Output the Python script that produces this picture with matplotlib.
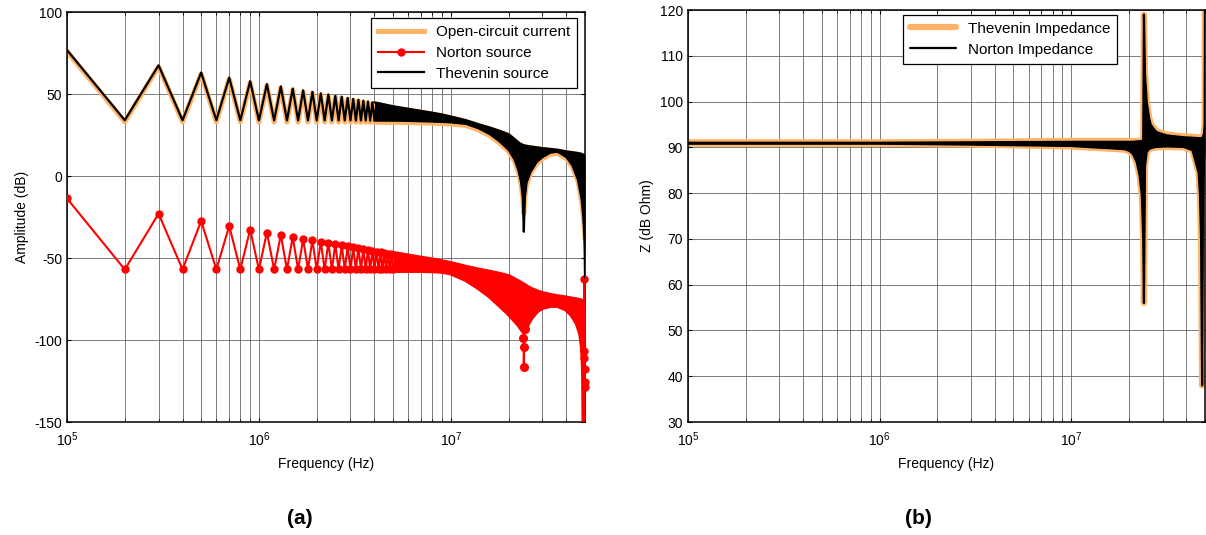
import numpy as np
import matplotlib.pyplot as plt

plt.rcParams['font.family'] = ['Liberation Sans', 'DejaVu Sans']
plt.rcParams['axes.unicode_minus'] = False

# ---------------- data ----------------
f0 = 1e5  # fundamental (Hz), every point sits on a harmonic n*f0

# harmonics 1..50 : drawn point by point
harm_zz = np.arange(1, 51)
thev_zz = [76.8, 34.0, 67.5, 34.0, 63.1, 34.0, 60.0, 34.0, 57.8, 33.9,
           56.0, 33.9, 54.6, 33.9, 53.3, 33.9, 52.2, 33.9, 51.3, 33.9,
           50.4, 33.9, 49.7, 33.9, 48.9, 33.9, 48.3, 33.9, 47.6, 33.9,
           47.0, 33.8, 46.5, 33.8, 45.9, 33.8, 45.4, 33.8, 44.9, 33.8,
           44.4, 33.8, 44.0, 33.8, 43.5, 33.8, 43.1, 33.8, 42.7, 33.8]
open_zz = [76.0, 33.0, 66.7, 33.0, 62.3, 33.0, 59.2, 33.0, 57.0, 32.9,
           55.2, 32.9, 53.8, 32.9, 52.5, 32.9, 51.4, 32.9, 50.5, 32.9,
           49.6, 32.9, 48.9, 32.9, 48.1, 32.9, 47.5, 32.9, 46.8, 32.9,
           46.2, 32.8, 45.7, 32.8, 45.1, 32.8, 44.6, 32.8, 44.1, 32.8,
           43.6, 32.8, 43.2, 32.8, 42.7, 32.8, 42.3, 32.8, 41.9, 32.8]
nort_zz = [-13.7, -57.0, -23.0, -57.0, -27.4, -57.0, -30.5, -57.0, -32.7, -57.0,
           -34.5, -57.0, -35.9, -57.0, -37.2, -57.0, -38.3, -57.0, -39.2, -57.0,
           -40.1, -57.0, -40.8, -57.0, -41.6, -57.0, -42.2, -57.0, -42.9, -57.0,
           -43.5, -57.0, -44.0, -57.0, -44.6, -57.0, -45.1, -57.0, -45.6, -57.0,
           -46.1, -57.0, -46.5, -57.0, -47.0, -57.0, -47.4, -57.0, -47.8, -57.0]

# harmonics 40..500 : too dense to separate, kept as upper / lower envelopes
harm_band = [40, 50, 60, 70, 80, 90, 100, 120, 140, 160, 180, 200, 215, 225, 232, 237,
             240, 243, 248, 260, 280, 300, 330, 360, 400, 430, 460, 480, 490, 495, 498, 500]
thev_hi = [44.9, 42.5, 41.0, 39.7, 38.6, 37.5, 36.3, 34.0, 31.5, 29.5, 27.5, 25.5, 22.5, 20.5, 19.5, 19.0,
           18.8, 18.6, 18.4, 18.0, 17.5, 17.0, 16.5, 16.0, 15.0, 14.5, 14.0, 13.5, 13.0, 13.0, 12.5, 12.0]
thev_lo = [33.8, 33.8, 33.6, 33.4, 33.2, 33.0, 32.7, 31.8, 29.0, 25.5, 21.0, 16.0, 10.0, 3.5, -3.5, -13.0,
           -34.0, -13.0, -4.0, 2.5, 8.5, 11.5, 14.3, 14.8, 11.5, 6.5, -2.5, -14.0, -25.0, -34.0, -45.0, -62.0]
open_hi = [44.1, 41.7, 40.2, 38.9, 37.8, 36.7, 35.5, 33.2, 30.7, 28.7, 26.7, 24.7, 21.7, 19.7, 18.7, 18.2,
           18.0, 17.8, 17.6, 17.2, 16.7, 16.2, 15.7, 15.2, 14.2, 13.7, 13.2, 12.7, 12.2, 12.2, 11.7, 11.2]
open_lo = [32.8, 32.8, 32.6, 32.4, 32.2, 32.0, 31.7, 30.8, 28.0, 24.5, 20.0, 15.0, 9.0, 2.5, -4.5, -13.0,
           -23.0, -13.0, -5.0, 1.5, 7.5, 10.5, 13.3, 13.8, 10.5, 5.5, -3.5, -15.0, -25.0, -31.0, -35.0, -38.0]

# Norton band starts later: its markers stay apart a little longer
harm_nband = [50, 60, 70, 80, 90, 100, 120, 140, 160, 180, 200, 215, 225, 232, 237,
              240, 243, 248, 260, 280, 300, 330, 360, 400, 430, 460, 480, 490, 495, 498, 500]
nort_hi = [-47.8, -49.4, -50.7, -51.8, -52.9, -54.0, -56.3, -58.0, -59.3, -60.6, -62.0, -64.0, -65.3, -66.2, -66.8,
           -67.2, -67.6, -68.3, -69.6, -71.2, -72.3, -73.4, -74.2, -75.0, -75.7, -76.3, -76.9, -77.3, -77.6, -78.0, -78.5]
nort_lo = [-57.0, -57.0, -57.0, -57.2, -57.5, -58.5, -62.5, -67.5, -72.5, -78.0, -83.0, -87.0, -89.5, -91.5, -93.0,
           -94.0, -93.0, -90.0, -86.0, -81.5, -79.5, -78.3, -78.3, -80.5, -84.0, -89.5, -96.0, -104.0, -112.0, -125.0, -155.0]

# single Norton points below the band: the null near 24 MHz and the right edge
nort_dip_n = [238, 239, 240, 241, 242]
nort_dip = [-92.0, -98.9, -116.5, -104.5, -93.0]
nort_tail_n = [494, 496, 497, 498, 499, 500]
nort_tail = [-63.0, -107.0, -111.0, -117.5, -125.7, -128.7]

# impedances (dB Ohm), envelopes
harm_z = [1, 3, 10, 30, 100, 130, 160, 190, 200, 210, 220, 228, 234, 238, 240, 243,
          248, 255, 260, 270, 280, 316, 386, 430, 463, 471, 477, 483, 488, 494, 498, 500]
thevz_hi = [91.1, 91.1, 91.1, 91.2, 91.4, 91.4, 91.4, 91.4, 91.4, 91.4, 91.4, 91.4, 91.5, 91.7, 119.0, 106.2,
            100.2, 96.7, 95.2, 94.2, 93.5, 92.8, 92.4, 92.3, 92.2, 92.2, 92.2, 92.2, 92.5, 93.2, 95.2, 125.0]
thevz_lo = [90.8, 90.8, 90.8, 90.6, 90.2, 89.9, 89.7, 89.5, 89.2, 88.5, 86.7, 83.7, 79.4, 69.9, 56.0, 85.9,
            88.9, 89.5, 89.7, 89.9, 90.0, 90.1, 90.0, 89.3, 84.4, 79.4, 69.9, 38.0, 79.9, 85.9, 87.9, 88.9]
nortz_hi = [91.0, 91.0, 91.0, 91.1, 91.2, 91.2, 91.2, 91.2, 91.2, 91.2, 91.3, 91.3, 91.4, 91.6, 119.0, 106.0,
            100.0, 96.5, 95.0, 94.0, 93.3, 92.6, 92.2, 92.1, 92.0, 92.0, 92.0, 92.0, 92.3, 93.0, 95.0, 125.0]
nortz_lo = [90.8, 90.8, 90.8, 90.6, 90.3, 90.0, 89.8, 89.6, 89.3, 88.6, 86.8, 83.8, 79.5, 70.0, 56.0, 86.0,
            89.0, 89.6, 89.8, 90.0, 90.1, 90.2, 90.1, 89.4, 84.5, 79.5, 70.0, 38.0, 80.0, 86.0, 88.0, 89.0]
# ----------------------------------------------------------

ORANGE = '#FFB366'
RED = '#FF0000'


def band(ax, harm, lo, hi, color, lw, z, label=None):
    # dense zig-zag drawn as a filled band with its two edges
    f = np.array(harm) * f0
    ax.fill_between(f, lo, hi, color=color, lw=0, zorder=z)
    kw = dict(color=color, lw=lw, zorder=z, solid_joinstyle='round', solid_capstyle='round')
    ax.plot(f, lo, **kw)
    ax.plot(f, hi, label=label, **kw)


def style_axes(ax, ylim, yticks, ylabel):
    ax.set_xscale('log')
    ax.set_xlim(1e5, 5e7)
    ax.set_ylim(*ylim)
    ax.set_yticks(yticks)
    ax.set_axisbelow(True)
    ax.grid(True, which='both', axis='x', color='0.4', lw=0.6)
    ax.grid(True, which='major', axis='y', color='0.4', lw=0.6)
    ax.tick_params(which='both', direction='in', top=True, right=True, labelsize=10)
    ax.tick_params(which='major', length=3)
    ax.tick_params(which='minor', length=2)
    ax.tick_params(axis='x', which='both', pad=6)
    for s in ax.spines.values():
        s.set_linewidth(1.1)
    ax.set_xlabel('Frequency (Hz)', fontsize=10, labelpad=6)
    ax.set_ylabel(ylabel, fontsize=10, labelpad=4)


def legend(ax, anchor):
    leg = ax.legend(loc='upper right', bbox_to_anchor=anchor, borderaxespad=0, fontsize=11,
                    handlelength=3.0, labelspacing=0.45, borderpad=0.45, fancybox=False,
                    framealpha=1, edgecolor='black')
    leg.get_frame().set_linewidth(0.9)


fig = plt.figure(figsize=(12.06, 5.35), dpi=100)
ax1 = fig.add_axes([67 / 1206, 113 / 535, 518 / 1206, 410 / 535])
ax2 = fig.add_axes([688 / 1206, 113 / 535, 517 / 1206, 412 / 535])

# ---- (a) source amplitudes ----
fz = harm_zz * f0
ax1.plot(fz, open_zz, color=ORANGE, lw=3.6, zorder=2, label='Open-circuit current')
ax1.plot(fz, nort_zz, color=RED, lw=1.5, marker='o', ms=5, zorder=3, label='Norton source')
ax1.plot(fz, thev_zz, color='black', lw=1.6, zorder=4, label='Thevenin source')

band(ax1, harm_band, open_lo, open_hi, ORANGE, 3.6, 2)
band(ax1, harm_nband, nort_lo, nort_hi, RED, 5.0, 3)
band(ax1, harm_band, thev_lo, thev_hi, 'black', 1.6, 4)
ax1.plot(np.array(nort_dip_n) * f0, nort_dip, color=RED, lw=1.5, marker='o', ms=5.5, zorder=3)
ax1.plot(np.array(nort_tail_n) * f0, nort_tail, color=RED, lw=1.5, marker='o', ms=5,
         zorder=3, clip_on=False)

style_axes(ax1, (-150, 100), np.arange(-150, 101, 50), 'Amplitude (dB)')
legend(ax1, (0.985, 0.985))

# ---- (b) impedances ----
band(ax2, harm_z, thevz_lo, thevz_hi, ORANGE, 4.5, 2, label='Thevenin Impedance')
band(ax2, harm_z, nortz_lo, nortz_hi, 'black', 1.6, 4, label='Norton Impedance')

style_axes(ax2, (30, 120), np.arange(30, 121, 10), 'Z (dB Ohm)')
legend(ax2, (0.83, 0.988))

fig.text(300 / 1206, 1 - 518 / 535, '(a)', ha='center', va='center', fontsize=15, fontweight='bold')
fig.text(918 / 1206, 1 - 518 / 535, '(b)', ha='center', va='center', fontsize=15, fontweight='bold')

fig.savefig('out.png', dpi=100)
